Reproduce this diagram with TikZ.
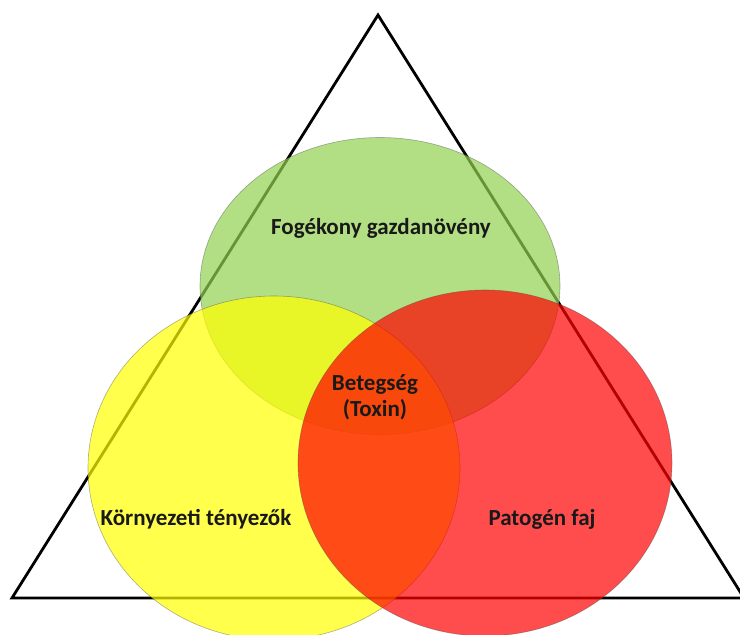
\documentclass[tikz,border=0pt]{standalone}
\usepackage{fontspec}
\setmainfont{Carlito}
\usetikzlibrary{shapes.geometric,positioning}
\definecolor{hostgreen}{RGB}{146,208,80}
\definecolor{envyellow}{RGB}{255,255,0}
\definecolor{pathred}{RGB}{255,0,0}
\tikzset{
  venn/.style={ellipse, inner sep=0pt, fill opacity=0.7, draw=black!70,
    draw opacity=0.45, line width=0.6pt},
  lbl/.style={font=\fontsize{23}{26}\selectfont\bfseries, align=center,
    text=black!90, inner sep=0pt}
}

\begin{document}
\begin{tikzpicture}[x=1pt,y=-1pt]
\useasboundingbox (0,0) rectangle (740,635);
\clip (0,0) rectangle (740,635);
% triangle behind the circles
\coordinate (apex) at (378,15);
\coordinate (baseL) at (12,598);
\coordinate (baseR) at (744,598);
\draw[line width=2.8pt, line join=miter] (apex) -- (baseL) -- (baseR) -- cycle;
% the three circles
\node[venn, fill=hostgreen, minimum width=360pt, minimum height=297pt] (host) at (380,286) {};
\node[venn, fill=envyellow, minimum width=372pt, minimum height=344pt] (env) at (274,468) {};
\node[venn, fill=pathred, minimum width=374pt, minimum height=346pt] (pathogen) at (485,463) {};
% labels
\node[lbl] (hostlbl) at (381,228) {Fogékony gazdanövény};
\node[lbl] (disease) at (375,397) {Betegség\\(Toxin)};
\node[lbl] (envlbl) at (196,519) {Környezeti tényezők};
\node[lbl] (pathlbl) at (542,519) {Patogén faj};
\end{tikzpicture}
\end{document}
